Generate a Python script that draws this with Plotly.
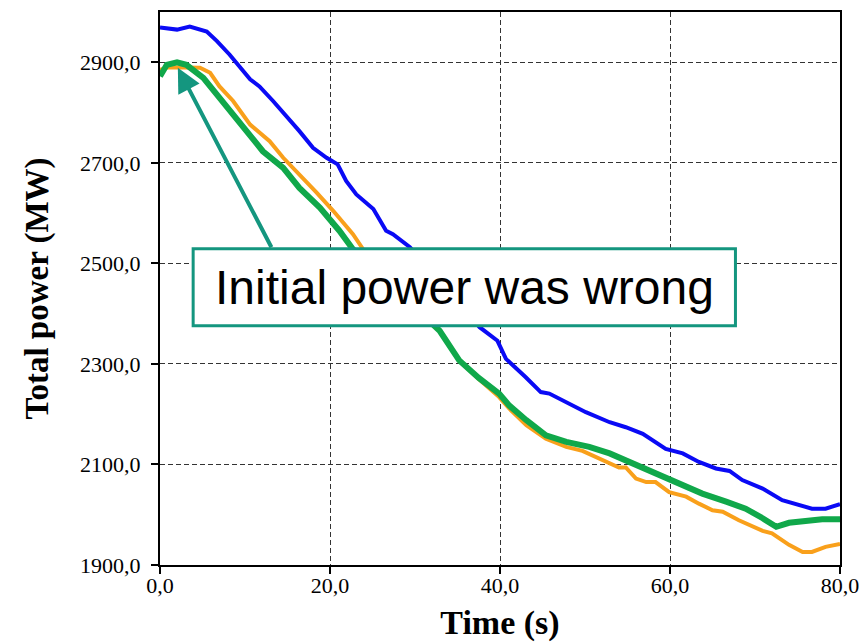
import plotly.graph_objects as go

# series (time in s, power in MW)
t_blue = [0, 2.0, 3.5, 5.5, 6.7, 8.2, 10.6, 11.7, 13.3, 14.9, 16.4, 18.0, 19.6, 20.9, 21.9,
          23.1, 25.1, 26.6, 27.4, 29.4, 31.5, 33.5, 35.5, 37.6, 39.7, 40.7, 43.0, 44.8, 45.8,
          47.8, 50.1, 52.9, 54.8, 56.8, 58.0, 59.5, 61.5, 63.4, 65.4, 67.0, 68.5, 70.9, 73.2,
          75.2, 76.7, 78.3, 80.0]
p_blue = [2969, 2965, 2971, 2961, 2942, 2915, 2866, 2852, 2823, 2793, 2763, 2730, 2710, 2697,
          2664, 2637, 2608, 2565, 2558, 2532, 2491, 2452, 2413, 2373, 2346, 2310, 2274, 2244,
          2241, 2224, 2204, 2184, 2174, 2161, 2148, 2131, 2122, 2105, 2092, 2087, 2069, 2052,
          2029, 2019, 2012, 2012, 2021]

t_orange = [0, 0.9, 4.7, 5.9, 7.0, 8.6, 10.6, 12.9, 14.5, 16.4, 18.4, 20.4, 22.7, 23.9, 25.5,
            27.5, 30.0, 32.9, 35.2, 37.5, 39.9, 41.1, 43.1, 45.4, 47.8, 49.7, 51.7, 54.0, 54.8,
            56.0, 57.2, 58.3, 59.9, 61.9, 63.4, 65.0, 66.2, 68.1, 70.9, 72.0, 74.0, 75.6, 76.7,
            78.3, 80.0]
p_orange = [2885, 2890, 2889, 2879, 2852, 2823, 2776, 2743, 2710, 2677, 2641, 2604, 2558, 2528,
            2500, 2462, 2420, 2366, 2307, 2270, 2234, 2211, 2178, 2151, 2135, 2127, 2112, 2094,
            2094, 2072, 2065, 2065, 2045, 2036, 2022, 2009, 2006, 1989, 1968, 1963, 1940, 1926,
            1926, 1936, 1942]

t_green = [0, 0.8, 2.0, 3.1, 5.1, 7.0, 9.4, 12.1, 14.5, 16.4, 18.8, 21.1, 22.7, 25.0, 27.5,
           30.0, 32.9, 35.2, 37.5, 39.9, 41.1, 43.1, 45.4, 47.8, 50.5, 52.9, 55.6, 58.3, 61.1,
           63.8, 66.6, 68.9, 70.9, 72.5, 74.0, 76.0, 77.9, 80.0]
p_green = [2872, 2895, 2900, 2895, 2869, 2829, 2776, 2723, 2690, 2650, 2611, 2565, 2528, 2490,
           2452, 2412, 2366, 2307, 2272, 2241, 2217, 2188, 2158, 2145, 2135, 2122, 2102, 2085,
           2062, 2042, 2026, 2012, 1993, 1976, 1984, 1989, 1991, 1991]

x_ticks = [0, 20, 40, 60, 80]
y_ticks = [1900, 2100, 2300, 2500, 2700, 2900]

teal = "#14967f"
serif = "Liberation Serif, Times New Roman, serif"

fig = go.Figure()
fig.add_trace(go.Scatter(x=t_blue, y=p_blue, mode="lines", line=dict(color="#0a0af5", width=4)))
fig.add_trace(go.Scatter(x=t_orange, y=p_orange, mode="lines", line=dict(color="#f9a01b", width=4)))
fig.add_trace(go.Scatter(x=t_green, y=p_green, mode="lines", line=dict(color="#10a84a", width=6)))

# callout box
fig.add_shape(type="rect", x0=3.9, x1=67.7, y0=2376, y1=2529, layer="above",
              line=dict(color=teal, width=3), fillcolor="white")
fig.add_annotation(x=35.8, y=2452, text="Initial power was wrong", showarrow=False,
                   font=dict(family="Liberation Sans, Arial, sans-serif", size=48, color="black"))
fig.add_annotation(x=2.1, y=2889, ax=13.2, ay=2529, axref="x", ayref="y", text="",
                   showarrow=True, arrowhead=2, arrowsize=1.2, arrowwidth=4, arrowcolor=teal)

fig.update_layout(
    width=859, height=634,
    margin=dict(l=152, r=27, t=2, b=77),
    plot_bgcolor="white", paper_bgcolor="white",
    showlegend=False,
    separators=",.",
    font=dict(family=serif, size=22, color="black"),
)
fig.update_xaxes(
    range=[0, 80], tickvals=x_ticks, tickformat=".1f",
    showline=True, mirror=True, linecolor="black", linewidth=2,
    ticks="outside", ticklen=7, tickwidth=1.5, tickcolor="black",
    ticklabelstandoff=-7,
    showgrid=True, gridcolor="#333333", gridwidth=1, griddash="5px,3px",
    zeroline=False,
    title=dict(text="<b>Time (s)</b>", font=dict(family=serif, size=34), standoff=13),
)
fig.update_yaxes(
    range=[1900, 3000], tickvals=y_ticks, tickformat=".1f",
    showline=True, mirror=True, linecolor="black", linewidth=2,
    ticks="outside", ticklen=7, tickwidth=1.5, tickcolor="black",
    ticklabelstandoff=6,
    showgrid=True, gridcolor="#333333", gridwidth=1, griddash="5px,3px",
    zeroline=False,
    title=dict(text="<b>Total power (MW)</b>", font=dict(family=serif, size=33), standoff=22),
)

fig.write_html("out.html")
